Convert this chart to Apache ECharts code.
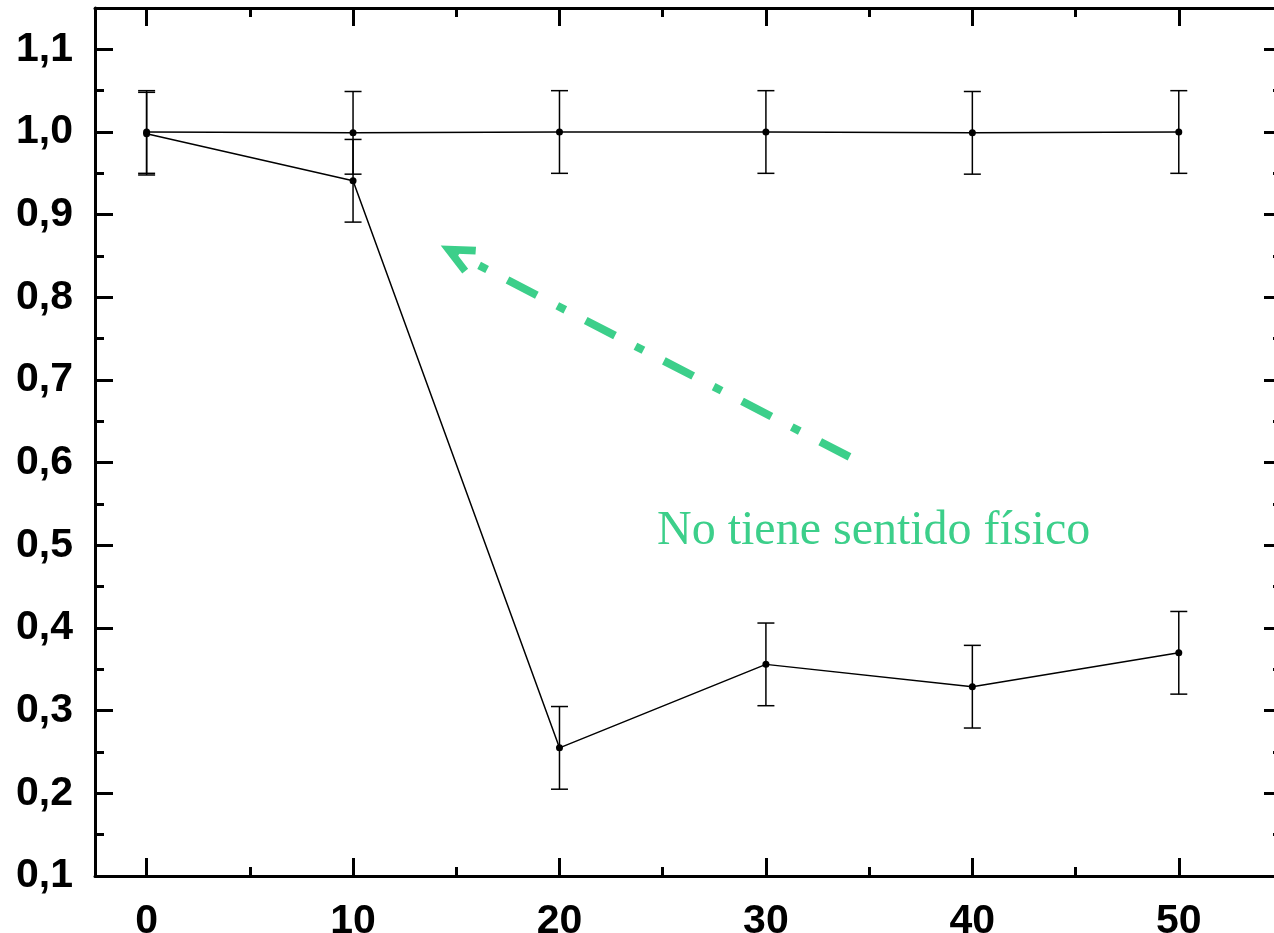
<!DOCTYPE html>
<html lang="es">
<head>
<meta charset="UTF-8">
<title>Chart</title>
<script src="https://cdn.jsdelivr.net/npm/echarts@6/dist/echarts.min.js"></script>
<style>
  html, body { margin: 0; padding: 0; background: #fff; overflow: hidden; }
  #main { width: 1274px; height: 933px; }
</style>
</head>
<body>
<div id="main"></div>
<script type="text/javascript">
    // datos
    var xValues = [0, 10, 20, 30, 40, 50];
    var serieA = [1.000, 0.999, 1.000, 1.000, 0.999, 1.000];
    var serieB = [0.998, 0.941, 0.255, 0.356, 0.329, 0.370];
    var errA = [0.05, 0.05, 0.05, 0.05, 0.05, 0.05];
    var errB = [0.05, 0.05, 0.05, 0.05, 0.05, 0.05];
    var xTicks = [0, 10, 20, 30, 40, 50];
    var xMinorTicks = [5, 15, 25, 35, 45, 55];
    var yTicks = [0.1, 0.2, 0.3, 0.4, 0.5, 0.6, 0.7, 0.8, 0.9, 1.0, 1.1];
    var yMinorTicks = [0.15, 0.25, 0.35, 0.45, 0.55, 0.65, 0.75, 0.85, 0.95, 1.05, 1.15];
    // flecha: desde, hasta (coordenadas de datos)
    var arrowFrom = [34.05, 0.607];
    var arrowTo = [15.0, 0.853];
    var noteText = 'No tiene sentido físico';

    var green = '#3ccf8a';
    var fontLabel = {
        fontFamily: '"Liberation Sans", Arial, sans-serif',
        fontWeight: 'bold',
        fontSize: 41,
        color: '#000'
    };

    function pairs(xs, ys) {
        var out = [];
        for (var i = 0; i < xs.length; i++) out.push([xs[i], ys[i]]);
        return out;
    }
    function errData(xs, ys, es) {
        var out = [];
        for (var i = 0; i < xs.length; i++) out.push([xs[i], ys[i] - es[i], ys[i] + es[i]]);
        return out;
    }

    function renderError(params, api) {
        var x = api.value(0);
        var lo = api.coord([x, api.value(1)]);
        var hi = api.coord([x, api.value(2)]);
        var half = 8.5;
        var style = { stroke: '#000', lineWidth: 1.5 };
        return {
            type: 'group',
            children: [
                { type: 'line', shape: { x1: lo[0], y1: lo[1], x2: hi[0], y2: hi[1] }, style: style },
                { type: 'line', shape: { x1: lo[0] - half, y1: lo[1], x2: lo[0] + half, y2: lo[1] }, style: style },
                { type: 'line', shape: { x1: hi[0] - half, y1: hi[1], x2: hi[0] + half, y2: hi[1] }, style: style }
            ]
        };
    }

    function xAxisDef(pos, major, labels) {
        return {
            type: 'value', position: pos, min: -2.5, max: 55,
            axisLine: { show: major, onZero: false, lineStyle: { color: '#000', width: 3 } },
            splitLine: { show: false },
            axisTick: {
                show: true, inside: true, length: major ? 18 : 9,
                customValues: major ? xTicks : xMinorTicks,
                lineStyle: { color: '#000', width: 3 }
            },
            axisLabel: labels ? Object.assign({
                show: true, margin: 25, customValues: xTicks,
                formatter: function (v) { return String(v); }
            }, fontLabel) : { show: false }
        };
    }
    function yAxisDef(pos, major, labels) {
        return {
            type: 'value', position: pos, min: 0.1, max: 1.15,
            axisLine: { show: major, onZero: false, lineStyle: { color: '#000', width: 3 } },
            splitLine: { show: false },
            axisTick: {
                show: true, inside: true, length: major ? 18 : 9,
                customValues: major ? yTicks : yMinorTicks,
                lineStyle: { color: '#000', width: 3 }
            },
            axisLabel: labels ? Object.assign({
                show: true, margin: 22, customValues: yTicks,
                formatter: function (v) { return v.toFixed(1).replace('.', ','); }
            }, fontLabel) : { show: false }
        };
    }

    var chart = echarts.init(document.getElementById('main'), null, { renderer: 'canvas' });
    var option = {
        animation: false,
        backgroundColor: '#fff',
        grid: {
            left: 95, top: 8, width: 1187, height: 868,
            containLabel: false, outerBoundsMode: 'none'
        },
        xAxis: [
            xAxisDef('bottom', true, true),
            xAxisDef('bottom', false, false),
            xAxisDef('top', true, false),
            xAxisDef('top', false, false)
        ],
        yAxis: [
            yAxisDef('left', true, true),
            yAxisDef('left', false, false),
            yAxisDef('right', true, false),
            yAxisDef('right', false, false)
        ],
        graphic: [{
            type: 'text',
            left: 657,
            top: 507,
            style: {
                text: noteText,
                fill: green,
                font: '48px "Liberation Serif", "Times New Roman", serif'
            }
        }],
        series: [
            {
                name: 'A', type: 'line', data: pairs(xValues, serieA),
                symbol: 'circle', symbolSize: 7,
                itemStyle: { color: '#000' },
                lineStyle: { color: '#000', width: 1.5 },
                z: 3
            },
            {
                name: 'B', type: 'line', data: pairs(xValues, serieB),
                symbol: 'circle', symbolSize: 7,
                itemStyle: { color: '#000' },
                lineStyle: { color: '#000', width: 1.5 },
                z: 3,
                markLine: {
                    silent: true,
                    symbol: ['none', 'path://M0,0 L15,32 L8,35 L0,18 L-8,35 L-15,32 Z'],
                    symbolSize: [30, 35],
                    label: { show: false },
                    lineStyle: {
                        color: green, width: 8, type: [33, 23, 9, 23], cap: 'butt'
                    },
                    itemStyle: { color: green },
                    data: [[{ coord: arrowFrom }, { coord: arrowTo }]]
                }
            },
            {
                name: 'errA', type: 'custom', data: errData(xValues, serieA, errA),
                renderItem: renderError, z: 2
            },
            {
                name: 'errB', type: 'custom', data: errData(xValues, serieB, errB),
                renderItem: renderError, z: 2
            }
        ]
    };
    chart.setOption(option);
</script>
</body>
</html>
